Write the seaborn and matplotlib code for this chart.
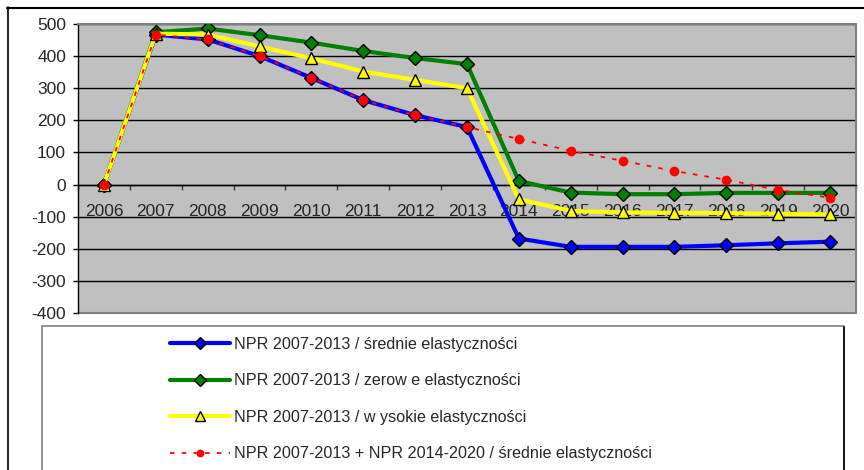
import numpy as np
import pandas as pd
import matplotlib
matplotlib.use("Agg")
import matplotlib.pyplot as plt
from matplotlib.lines import Line2D
from matplotlib.patches import Rectangle
import seaborn as sns

sns.set_style("white")
plt.rcParams['font.family'] = ['Liberation Sans', 'DejaVu Sans']

years = [str(y) for y in range(2006, 2021)]
srednie = [0, 467, 452, 400, 332, 263, 216, 179, -168, -194, -194, -194, -189, -183, -178]
zerowe = [0, 474, 486, 465, 442, 416, 394, 375, 11, -25, -30, -30, -26, -26, -26]
wysokie = [0, 470, 467, 430, 393, 352, 326, 300, -46, -82, -87, -88, -89, -91, -93]
npr_plus = [0, 467, 452, 400, 332, 263, 216, 179, 142, 105, 74, 42, 15, -17, -41]
labels = [
    "NPR 2007-2013 / średnie elastyczności",
    "NPR 2007-2013 / zerow e elastyczności",
    "NPR 2007-2013 / w ysokie elastyczności",
    "NPR 2007-2013 + NPR 2014-2020 / średnie elastyczności",
]
y_ticks = [-400, -300, -200, -100, 0, 100, 200, 300, 400, 500]

W, H = 864, 470
fig = plt.figure(figsize=(W / 100, H / 100), dpi=100)
ax = fig.add_axes([78 / W, 1 - 313 / H, 778 / W, 289 / H])
ax.set_facecolor('#C0C0C0')

xpos = np.arange(len(years))
series = [srednie, zerowe, wysokie, npr_plus]
styles = [
    dict(color='#0000FF', lw=3, marker='D', markersize=7.5, markerfacecolor='#0000FF',
         markeredgecolor='black', markeredgewidth=1.0, linestyle='-'),
    dict(color='#008000', lw=3, marker='D', markersize=7.5, markerfacecolor='#008000',
         markeredgecolor='black', markeredgewidth=1.0, linestyle='-'),
    dict(color='#FFFF00', lw=3, marker='^', markersize=9, markerfacecolor='#FFFF00',
         markeredgecolor='black', markeredgewidth=1.0, linestyle='-'),
    dict(color='#FF0000', lw=1.3, marker='o', markersize=7, markerfacecolor='#FF0000',
         markeredgecolor='#FF0000', markeredgewidth=0, linestyle=(0, (2.5, 4))),
]
for vals, lab, st in zip(series, labels, styles):
    df = pd.DataFrame({'x': xpos, 'y': vals})
    sns.lineplot(data=df, x='x', y='y', ax=ax, label=lab, zorder=3, **st)

ax.set_xlim(-0.5, len(years) - 0.5)
ax.set_ylim(-400, 500)
ax.set_yticks(y_ticks)
ax.set_yticklabels([str(v) for v in y_ticks])
ax.set_xticks(xpos)
ax.set_xticklabels(years)
ax.set_xticks(np.arange(-0.5, len(years), 1.0), minor=True)
ax.set_xlabel('')
ax.set_ylabel('')

ax.grid(axis='y', color='black', lw=1.0, zorder=1)
ax.grid(axis='x', visible=False)
ax.set_axisbelow(True)

ax.spines['left'].set_color('black')
ax.spines['left'].set_linewidth(1.0)
ax.spines['bottom'].set_position(('data', 0))
ax.spines['bottom'].set_color('black')
ax.spines['bottom'].set_linewidth(1.0)
ax.spines['top'].set_color('#808080')
ax.spines['right'].set_color('#808080')
ax.spines['top'].set_linewidth(1.5)
ax.spines['right'].set_linewidth(1.5)
ax.add_line(Line2D([0, 1], [0, 0], transform=ax.transAxes, color='#808080', lw=1.5, clip_on=False))

ax.tick_params(axis='y', which='major', direction='out', length=3.6, width=1, color='black',
               pad=5, labelsize=12.5, left=True)
ax.tick_params(axis='x', which='major', length=0, pad=14, labelsize=12.5, bottom=True)
ax.tick_params(axis='x', which='minor', direction='out', length=3.6, width=1, color='#404040', bottom=True)

ax.get_legend().remove()
handles, labs = ax.get_legend_handles_labels()

# legend box
fig.add_artist(Rectangle((42 / W, -0.05), (844 - 42) / W, 1 - 326 / H + 0.05,
                         transform=fig.transFigure, facecolor='white', edgecolor='#808080',
                         lw=1.2, zorder=0))
fig.add_artist(Line2D([844 / W, 844 / W], [0, 1 - 327 / H], transform=fig.transFigure,
                      color='black', lw=1.2))
leg = fig.legend(handles, labs, loc='upper left', bbox_to_anchor=(170 / W, 1 - 337 / H),
                 bbox_transform=fig.transFigure, frameon=False, fontsize=11.6,
                 handlelength=3.7, handletextpad=0.3, labelspacing=1.33,
                 borderpad=0, borderaxespad=0, markerscale=0.8)

# outer frame
fig.add_artist(Line2D([7 / W, 1], [1 - 7.5 / H, 1 - 7.5 / H], transform=fig.transFigure, color='black', lw=1.5))
fig.add_artist(Line2D([7.5 / W, 7.5 / W], [0, 1 - 7 / H], transform=fig.transFigure, color='black', lw=1.2))

fig.savefig('out.png', dpi=100)
